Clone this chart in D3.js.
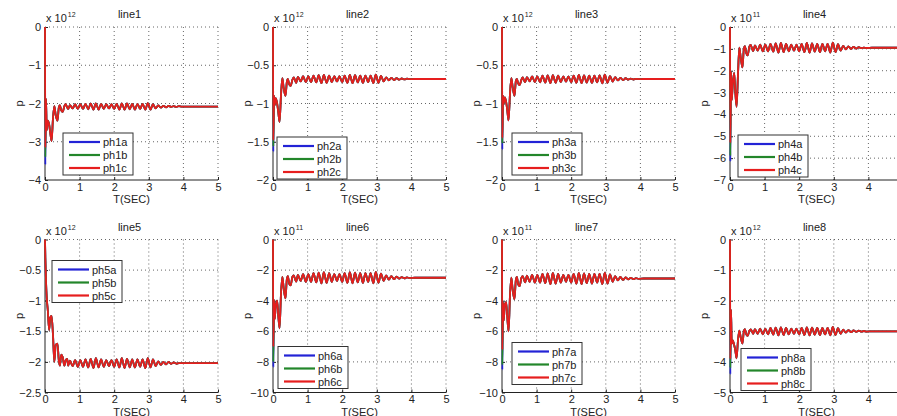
<!DOCTYPE html>
<html><head><meta charset="utf-8">
<script src="https://cdn.jsdelivr.net/npm/d3@7/dist/d3.min.js"></script>
<style>
html,body{margin:0;padding:0;background:#fff;}
svg{display:block;}
text{font-family:"Liberation Sans",Arial,Helvetica,sans-serif;fill:#222;}
</style></head>
<body>
<svg id="c" width="897" height="416"></svg>
<script>
// ---- data ----
const T = [0, 0.01, 0.03, 0.05, 0.08, 0.12, 0.15, 0.19, 0.23, 0.27, 0.31, 0.36, 0.4, 0.43, 0.47, 0.51, 0.56, 0.6, 0.64, 0.67,
  0.72, 0.8, 0.87, 0.95, 1.02, 1.1, 1.17, 1.25, 1.32, 1.4, 1.47, 1.55, 1.62, 1.7, 1.77, 1.85, 1.92, 2.0, 2.07, 2.15,
  2.22, 2.3, 2.37, 2.45, 2.52, 2.6, 2.67, 2.75, 2.82, 2.9, 2.97, 3.05, 3.12, 3.2, 3.27, 3.35, 3.42, 3.5, 3.57, 3.65,
  3.72, 3.8, 3.87, 3.95, 4.1, 5.0];

const titles = ["line1","line2","line3","line4","line5","line6","line7","line8"];
const exponents = [12, 12, 12, 11, 12, 11, 11, 12];
const seriesNames = ["a","b","c"];

const yTicks1 = [0, -1, -2, -3, -4];
const yTicks2 = [0, -0.5, -1, -1.5, -2];
const yTicks3 = [0, -0.5, -1, -1.5, -2];
const yTicks4 = [0, -1, -2, -3, -4, -5, -6, -7];
const yTicks5 = [0, -0.5, -1, -1.5, -2, -2.5];
const yTicks6 = [0, -2, -4, -6, -8, -10];
const yTicks7 = [0, -2, -4, -6, -8, -10];
const yTicks8 = [0, -1, -2, -3, -4, -5];
const xTicks = [0, 1, 2, 3, 4, 5];

// phase a / b / c values at the first sample after t=0 (initial dip)
const dip1 = [-3.6, -3.4, -3.15];
const dip2 = [-1.63, -1.56, -1.48];
const dip3 = [-1.6, -1.52, -1.45];
const dip4 = [-6.15, -5.9, -5.3];
const dip5 = [-0.3, -0.3, -0.3];
const dip6 = [-8.35, -8.0, -7.0];
const dip7 = [-8.5, -8.2, -7.2];
const dip8 = [-4.4, -4.2, -3.9];

const line1 = [0, -3.15, -1.88, -2.7, -2.45, -2.55, -2.75, -2.98, -2.4, -2.07, -2.3, -2.45, -2.1, -2.04, -2.18, -2.22, -2.07, -2.02, -2.1, -2.14,
  -2.04, -2.13, -2.02, -2.14, -2.02, -2.14, -2.01, -2.15, -2.00, -2.16, -2.00, -2.16, -2.01, -2.14, -2.02, -2.13, -2.02, -2.14, -2.01, -2.16,
  -2.00, -2.16, -2.00, -2.15, -2.01, -2.16, -2.01, -2.14, -2.01, -2.16, -1.99, -2.16, -2.02, -2.13, -2.05, -2.11, -2.06, -2.10, -2.06, -2.09,
  -2.07, -2.09, -2.07, -2.08, -2.08, -2.08];
const line2 = [0, -1.48, -0.9, -1.02, -0.93, -1.0, -1.1, -1.24, -0.9, -0.67, -0.8, -0.9, -0.72, -0.68, -0.75, -0.77, -0.69, -0.66, -0.7, -0.73,
  -0.653, -0.712, -0.644, -0.721, -0.644, -0.721, -0.635, -0.725, -0.631, -0.734, -0.626, -0.730, -0.635, -0.721, -0.644, -0.712, -0.644, -0.721, -0.635, -0.730,
  -0.626, -0.734, -0.631, -0.725, -0.635, -0.730, -0.635, -0.721, -0.635, -0.734, -0.622, -0.730, -0.640, -0.712, -0.658, -0.698, -0.664, -0.694, -0.669, -0.689,
  -0.673, -0.685, -0.676, -0.682, -0.68, -0.68];
const line3 = [0, -1.45, -0.9, -1.0, -0.92, -0.98, -1.08, -1.22, -0.88, -0.67, -0.79, -0.9, -0.71, -0.68, -0.74, -0.76, -0.69, -0.66, -0.7, -0.72,
  -0.655, -0.710, -0.646, -0.719, -0.646, -0.722, -0.637, -0.727, -0.632, -0.733, -0.628, -0.729, -0.636, -0.720, -0.645, -0.714, -0.646, -0.722, -0.636, -0.729,
  -0.627, -0.733, -0.632, -0.726, -0.636, -0.731, -0.636, -0.722, -0.634, -0.735, -0.624, -0.729, -0.641, -0.713, -0.657, -0.699, -0.665, -0.695, -0.670, -0.688,
  -0.674, -0.686, -0.677, -0.682, -0.68, -0.68];
const line4 = [0, -5.3, -2.05, -3.35, -2.6, -2.1, -2.9, -3.65, -2.2, -0.95, -1.4, -1.85, -1.0, -0.88, -1.2, -1.3, -0.9, -0.82, -1.0, -1.1,
  -0.84, -1.08, -0.81, -1.11, -0.81, -1.11, -0.77, -1.13, -0.75, -1.17, -0.73, -1.15, -0.77, -1.11, -0.81, -1.08, -0.81, -1.11, -0.77, -1.15,
  -0.73, -1.17, -0.75, -1.13, -0.77, -1.15, -0.77, -1.11, -0.77, -1.17, -0.72, -1.15, -0.79, -1.08, -0.86, -1.02, -0.89, -1.00, -0.91, -0.99,
  -0.92, -0.97, -0.94, -0.96, -0.95, -0.95];
const line5 = [0, -0.3, -0.7, -0.95, -1.15, -1.48, -1.28, -1.25, -1.55, -2.0, -1.72, -1.7, -1.98, -2.06, -1.88, -1.92, -2.06, -1.97, -1.95, -2.06,
  -1.98, -2.07, -1.97, -2.08, -1.97, -2.08, -1.96, -2.09, -1.95, -2.10, -1.94, -2.09, -1.96, -2.08, -1.97, -2.07, -1.97, -2.08, -1.96, -2.09,
  -1.94, -2.10, -1.95, -2.09, -1.96, -2.09, -1.96, -2.08, -1.96, -2.10, -1.94, -2.09, -1.96, -2.07, -1.99, -2.05, -2.00, -2.04, -2.00, -2.03,
  -2.01, -2.03, -2.02, -2.02, -2.02, -2.02];
const line6 = [0, -7.0, -3.95, -5.2, -4.3, -4.0, -4.9, -5.8, -3.6, -2.45, -3.2, -3.85, -2.6, -2.4, -2.9, -3.0, -2.45, -2.35, -2.6, -2.75,
  -2.32, -2.71, -2.26, -2.77, -2.26, -2.77, -2.20, -2.80, -2.17, -2.86, -2.14, -2.83, -2.20, -2.77, -2.26, -2.71, -2.26, -2.77, -2.20, -2.83,
  -2.14, -2.86, -2.17, -2.80, -2.20, -2.83, -2.20, -2.77, -2.20, -2.86, -2.11, -2.83, -2.23, -2.71, -2.35, -2.62, -2.40, -2.59, -2.43, -2.56,
  -2.46, -2.54, -2.48, -2.52, -2.5, -2.5];
const line7 = [0, -7.2, -4.1, -5.3, -4.3, -4.1, -5.0, -6.0, -3.7, -2.5, -3.3, -3.9, -2.65, -2.45, -2.95, -3.05, -2.5, -2.4, -2.65, -2.8,
  -2.37, -2.76, -2.31, -2.82, -2.31, -2.82, -2.25, -2.85, -2.22, -2.91, -2.19, -2.88, -2.25, -2.82, -2.31, -2.76, -2.31, -2.82, -2.25, -2.88,
  -2.19, -2.91, -2.22, -2.85, -2.25, -2.88, -2.25, -2.82, -2.25, -2.91, -2.16, -2.88, -2.28, -2.76, -2.40, -2.67, -2.45, -2.64, -2.48, -2.61,
  -2.51, -2.59, -2.53, -2.57, -2.55, -2.55];
const line8 = [0, -3.9, -2.3, -3.4, -3.3, -3.45, -3.6, -3.88, -3.3, -2.98, -3.2, -3.4, -3.0, -2.93, -3.1, -3.15, -2.98, -2.94, -3.02, -3.08,
  -2.93, -3.08, -2.91, -3.10, -2.91, -3.10, -2.89, -3.11, -2.88, -3.13, -2.87, -3.12, -2.89, -3.10, -2.91, -3.08, -2.91, -3.10, -2.89, -3.12,
  -2.87, -3.13, -2.88, -3.11, -2.89, -3.12, -2.89, -3.10, -2.89, -3.13, -2.86, -3.12, -2.90, -3.08, -2.95, -3.04, -2.96, -3.03, -2.97, -3.02,
  -2.98, -3.01, -2.99, -3.01, -3.0, -3.0];

// ---- layout (presentation only) ----
const lines = [line1,line2,line3,line4,line5,line6,line7,line8];
const dips = [dip1,dip2,dip3,dip4,dip5,dip6,dip7,dip8];
const yTicksAll = [yTicks1,yTicks2,yTicks3,yTicks4,yTicks5,yTicks6,yTicks7,yTicks8];
const colLeft = [45, 273, 502, 730];
const rowTop = [27, 239.5];
const W = 173, H = 153;
const legendPos = [[18,106],[4,110],[10,106],[8,108],[7,21],[5,107],[10,103],[11,109]];
const colors = ["#2323d6", "#23862a", "#e61e1e"];

const svg = d3.select("#c");

lines.forEach((vals, i) => {
  const col = i % 4, row = Math.floor(i / 4);
  const g = svg.append("g").attr("transform", `translate(${colLeft[col]},${rowTop[row]})`);
  const yt = yTicksAll[i];
  const x = d3.scaleLinear().domain([0, 5]).range([0, W]);
  const y = d3.scaleLinear().domain([d3.min(yt), d3.max(yt)]).range([H, 0]);

  // grid (dotted)
  const grid = g.append("g");
  xTicks.filter(v => v !== 0).forEach(v => {
    grid.append("line").attr("x1", x(v)).attr("x2", x(v)).attr("y1", 0).attr("y2", H)
      .attr("stroke", "#666").attr("stroke-width", 1).attr("stroke-dasharray", "1,3");
  });
  yt.filter(v => v !== d3.min(yt)).forEach(v => {
    grid.append("line").attr("x1", 0).attr("x2", W).attr("y1", y(v)).attr("y2", y(v))
      .attr("stroke", "#666").attr("stroke-width", 1).attr("stroke-dasharray", "1,3");
  });

  // axes
  const xAxis = d3.axisBottom(x).tickValues(xTicks).tickSize(-3).tickPadding(3).tickFormat(d3.format("d"));
  const yAxis = d3.axisLeft(y).tickValues(yt).tickSize(-3).tickPadding(4).tickFormat(d => d3.format("")(d));
  const gx = g.append("g").attr("transform", `translate(0,${H})`).call(xAxis);
  const gy = g.append("g").call(yAxis);
  [gx, gy].forEach(a => {
    a.select(".domain").attr("stroke", "#222").attr("stroke-width", 1);
    a.selectAll(".tick line").attr("stroke", "#222");
    a.selectAll(".tick text").attr("font-size", 11).attr("fill", "#222")
      .attr("font-family", '"Liberation Sans",Arial,sans-serif');
  });
  gx.select(".domain").attr("d", `M0,0H${W}`);
  gy.select(".domain").attr("d", `M0,0V${H}`);

  // series
  const line = d3.line().x((d, k) => x(T[k])).y(d => y(d)).curve(d3.curveMonotoneX);
  seriesNames.forEach((s, si) => {
    const data = vals.slice();
    data[1] = dips[i][si];
    g.append("path").datum(data).attr("d", line).attr("fill", "none")
      .attr("stroke", colors[si]).attr("stroke-width", 1.8).attr("stroke-linejoin", "round");
  });

  // title, labels
  g.append("text").attr("x", W / 2 - 2).attr("y", -9).attr("text-anchor", "middle")
    .attr("font-size", 11).text(titles[i]);
  const ex = g.append("text").attr("x", 1).attr("y", -5).attr("font-size", 11);
  ex.append("tspan").text("x 10");
  ex.append("tspan").attr("dy", -5).attr("dx", 1).attr("font-size", 7).text(exponents[i]);
  g.append("text").attr("x", W / 2).attr("y", H + 23).attr("text-anchor", "middle")
    .attr("font-size", 11).text("T(SEC)");
  g.append("text").attr("transform", `translate(-22,${H / 2}) rotate(-90)`)
    .attr("text-anchor", "middle").attr("font-size", 11).text("p");

  // legend
  const [lx, ly] = legendPos[i];
  const lg = g.append("g").attr("transform", `translate(${lx},${ly})`);
  lg.append("rect").attr("width", 70).attr("height", 42).attr("fill", "#fff")
    .attr("stroke", "#333").attr("stroke-width", 1);
  seriesNames.forEach((s, si) => {
    const yy = 9 + si * 13;
    lg.append("line").attr("x1", 6).attr("x2", 37).attr("y1", yy).attr("y2", yy)
      .attr("stroke", colors[si]).attr("stroke-width", 2.2);
    lg.append("text").attr("x", 40).attr("y", yy + 4).attr("font-size", 11)
      .text(`ph${i + 1}${s}`);
  });
});
</script>
</body></html>
